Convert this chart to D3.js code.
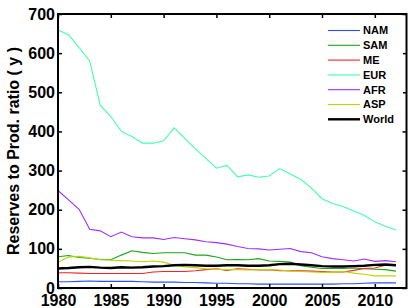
<!DOCTYPE html>
<html>
<head>
    <meta charset="utf-8">
    <script src="https://d3js.org/d3.v7.min.js"></script>
    <title>Reserves to Prod. ratio</title>
    <style>
        body{ margin: 0; background: #fff; }
        svg{ width: 415px; height: 308px; display: block; }
        text{ font-family: "Liberation Sans", Arial, sans-serif; font-weight: bold; }
    </style>
</head>
<body>
<svg></svg>
<script type="text/javascript">
    let years = d3.range(1980, 2013)
    let seriesNames = ["NAM", "SAM", "ME", "EUR", "AFR", "ASP", "World"]
    let seriesColors = ["#2f4fff", "#1aa51a", "#ff2020", "#40ffb0", "#9b30ff", "#b8d800", "#000000"]

    let NAM = [16,16,17,18,17,17,17,17,16,15,15,15,14,14,13,12,12,11,11,10,10,10,10,10,10,10,10,11,11,12,13,13,13]
    let SAM = [80,83,78,76,73,72,84,95,91,88,90,90,90,84,84,79,72,73,72,75,69,68,66,57,53,50,50,50,51,49,48,47,43]
    let ME  = [39,39,38,37,37,37,37,37,37,41,42,42,42,44,47,49,45,49,48,46,47,44,44,44,43,42,41,41,45,50,51,58,57]
    let EUR = [659,647,614,580,467,438,400,387,370,370,376,409,382,356,331,306,313,284,289,283,286,305,291,277,255,228,216,208,197,186,169,158,148]
    let AFR = [249,225,201,150,146,131,143,131,128,128,124,129,126,123,118,116,112,106,101,100,97,99,101,93,90,80,75,72,69,74,68,70,67]
    let ASP = [66,79,81,77,72,71,70,69,67,69,66,58,54,52,49,48,47,47,46,47,47,46,43,42,41,40,40,42,38,35,31,31,31]
    let World = [50,51,53,54,52,51,53,52,53,55,56,58,59,58,57,57,58,58,57,57,58,61,62,60,58,56,55,55,56,57,59,60,58]

    let xTicks = [1980, 1985, 1990, 1995, 2000, 2005, 2010]
    let yTicks = [0, 100, 200, 300, 400, 500, 600, 700]

    let seriesValues = [NAM, SAM, ME, EUR, AFR, ASP, World]

    let plotLeft = 58, plotRight = 406.5, plotTop = 14, plotBottom = 288
    let svg = d3.select('svg')

    let x = d3.scaleLinear().domain([1980, 2013]).range([plotLeft, plotRight])
    let y = d3.scaleLinear().domain([0, 700]).range([plotBottom, plotTop])

    // lines
    let line = d3.line()
        .x(function(d, i){ return x(years[i]) })
        .y(function(d){ return y(d) })

    svg.append('g')
        .selectAll('path')
        .data(seriesValues)
        .enter()
        .append('path')
        .attr('d', function(d){ return line(d) })
        .attr('fill', 'none')
        .attr('stroke', function(d, i){ return seriesColors[i] })
        .attr('stroke-width', function(d, i){ return seriesNames[i] == "World" ? 2.4 : 1.1 })

    // axes on all four sides, ticks inward
    let tickLen = 4
    svg.append('g')
        .attr('transform', `translate(0,${plotBottom})`)
        .call(d3.axisBottom(x).tickValues(xTicks).tickFormat(d3.format('d')).tickSizeInner(-tickLen).tickSizeOuter(0).tickPadding(7))
    svg.append('g')
        .attr('transform', `translate(0,${plotTop})`)
        .call(d3.axisTop(x).tickValues(xTicks).tickFormat('').tickSizeInner(-tickLen).tickSizeOuter(0))
    svg.append('g')
        .attr('transform', `translate(${plotLeft},0)`)
        .call(d3.axisLeft(y).tickValues(yTicks).tickSizeInner(-tickLen).tickSizeOuter(0).tickPadding(3))
    svg.append('g')
        .attr('transform', `translate(${plotRight},0)`)
        .call(d3.axisRight(y).tickValues(yTicks).tickFormat('').tickSizeInner(-tickLen).tickSizeOuter(0))

    svg.selectAll('.domain').remove()
    svg.selectAll('.tick line').attr('stroke', '#000').attr('stroke-width', 1.5)
    svg.selectAll('.tick text')
        .attr('fill', '#000')
        .style('font-size', '16px')
        .style('font-weight', 'bold')

    svg.append('rect')
        .attr('x', plotLeft).attr('y', plotTop)
        .attr('width', plotRight - plotLeft).attr('height', plotBottom - plotTop)
        .attr('fill', 'none').attr('stroke', '#000').attr('stroke-width', 2)

    // y label
    svg.append('text')
        .attr('transform', `translate(19,${(plotTop + plotBottom) / 2}) rotate(-90)`)
        .attr('text-anchor', 'middle')
        .style('font-size', '16px')
        .text('Reserves to Prod. ratio ( y )')

    // legend
    let legend = svg.append('g')
    legend.append('rect')
        .attr('x', 325).attr('y', 22).attr('width', 78).attr('height', 106)
        .attr('fill', '#fff')
    let items = legend.selectAll('g.item')
        .data(seriesNames)
        .enter()
        .append('g')
        .attr('transform', function(d, i){ return `translate(0,${30.5 + i * 14.8})` })
    items.append('line')
        .attr('x1', 328).attr('x2', 360)
        .attr('stroke', function(d, i){ return seriesColors[i] })
        .attr('stroke-width', function(d){ return d == "World" ? 2.4 : 1.1 })
    items.append('text')
        .attr('x', 363).attr('dy', '0.36em')
        .style('font-size', '11px')
        .text(function(d){ return d })
</script>
</body>
</html>
